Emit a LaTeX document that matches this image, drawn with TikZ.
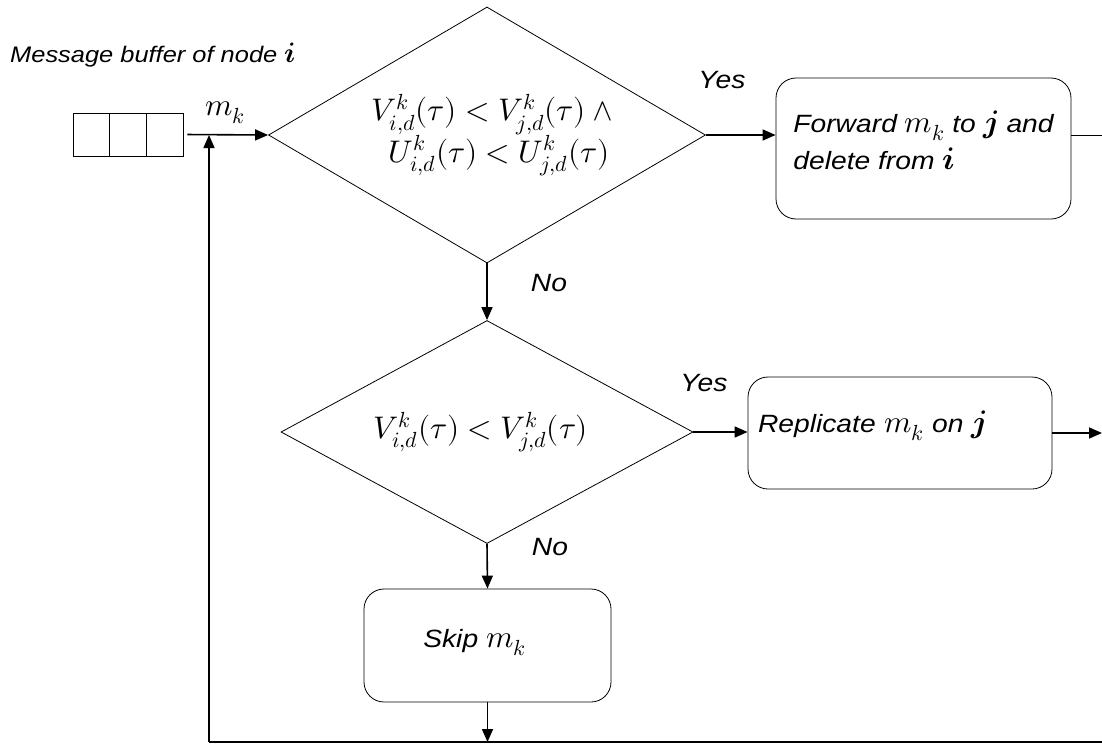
\documentclass[tikz,border=0pt]{standalone}
\usepackage{amsmath}
\usepackage{fontspec}
\usepackage{unicode-math}
\setmainfont{Liberation Sans}
\setmathfont{Latin Modern Math}[Scale=1.25]
\newfontfamily\widesans[FakeStretch=1.13]{Liberation Sans}
\usetikzlibrary{shapes.geometric,arrows.meta,calc}

\tikzset{
  cell/.style={draw, line width=0.8pt, minimum width=36.7pt, minimum height=43pt, inner sep=0pt},
  decision/.style={draw, diamond, aspect=1.7, line width=0.8pt, inner sep=0pt,
    font=\fontsize{25}{40}\selectfont, align=center},
  action/.style={draw, rectangle, rounded corners=20pt, line width=0.8pt, inner sep=0pt,
    font=\widesans\itshape\fontsize{25}{37}\selectfont},
  flow/.style={line width=1.6pt, -{Triangle[length=13pt,width=11pt]}},
  plainline/.style={line width=1.6pt},
  thinline/.style={line width=0.8pt},
  tag/.style={font=\widesans\itshape\fontsize{25}{29}\selectfont, inner sep=0pt},
}

\begin{document}
\begin{tikzpicture}[x=1pt,y=-1pt]
  \useasboundingbox (0,0) rectangle (1102,744);

  % message buffer
  \node[tag, anchor=west, font=\widesans\itshape\fontsize{22.5}{26}\selectfont] (buflabel) at (10,55)
    {Message buffer of node $\symbfit{i}$};
  \node[cell] (b1) at (91.3,134.5) {};
  \node[cell] (b2) at (128,134.5) {};
  \node[cell] (b3) at (164.7,134.5) {};

  % decisions
  \node[decision, minimum width=437pt, minimum height=256pt] (d1) at (487,135)
    {\hspace*{18pt}$V_{i,d}^{k}(\tau) < V_{j,d}^{k}(\tau) \wedge{}$\\
     \hspace*{24pt}$U_{i,d}^{k}(\tau) < U_{j,d}^{k}(\tau)$};
  \node[decision, minimum width=412pt, minimum height=223pt] (d2) at (487,432)
    {$V_{i,d}^{k}(\tau) < V_{j,d}^{k}(\tau)$\hspace*{12pt}};

  % actions
  \node[action, minimum width=295pt, minimum height=141pt, align=left,
        text depth=16pt] (fwd) at (923.5,148.5)
    {Forward $m_k$ to $\symbfit{j}$ and\\ delete from $\symbfit{i}$};
  \node[action, minimum width=304pt, minimum height=112pt, text width=284pt, align=left,
        text depth=22pt] (rep) at (900,433)
    {Replicate $m_k$ on $\symbfit{j}$};
  \node[action, minimum width=247pt, minimum height=113pt, text depth=14pt] (skip) at (487.5,645.5)
    {\hspace*{-26pt}Skip $m_k$};

  % free ends of the connectors
  \coordinate (fout) at (1102,135);
  \coordinate (rout) at (1102,433);
  \coordinate (botR) at (1102,742);
  \coordinate (botL) at (209,742);
  \coordinate (loopin) at (209,135);

  % connectors
  \draw[flow, shorten <=4pt] (b3.east) -- (d1.west);
  \draw[flow] (d1.east) -- (d1.east -| fwd.west);
  \draw[thinline] (fwd.east |- fout) -- (fout);
  \draw[flow] (d1.south) -- (d2.north);
  \draw[flow] (d2.east) -- (d2.east -| rep.west);
  \draw[flow] (rep.east |- rout) -- (rout);
  \draw[flow] (d2.south) -- (skip.north);
  \draw[flow] (skip.south) -- (skip.south |- botL);
  \draw[plainline] (botR) -- (botL);
  \draw[flow] (botL) -- (loopin);

  % labels
  \node[inner sep=0pt, font=\fontsize{25}{30}\selectfont] (mk) at (225,113) {$m_k$};
  \node[tag] (yes1) at (722,80) {Yes};
  \node[tag] (no1) at (549,283) {No};
  \node[tag] (yes2) at (704,383) {Yes};
  \node[tag] (no2) at (550,547) {No};
\end{tikzpicture}
\end{document}
